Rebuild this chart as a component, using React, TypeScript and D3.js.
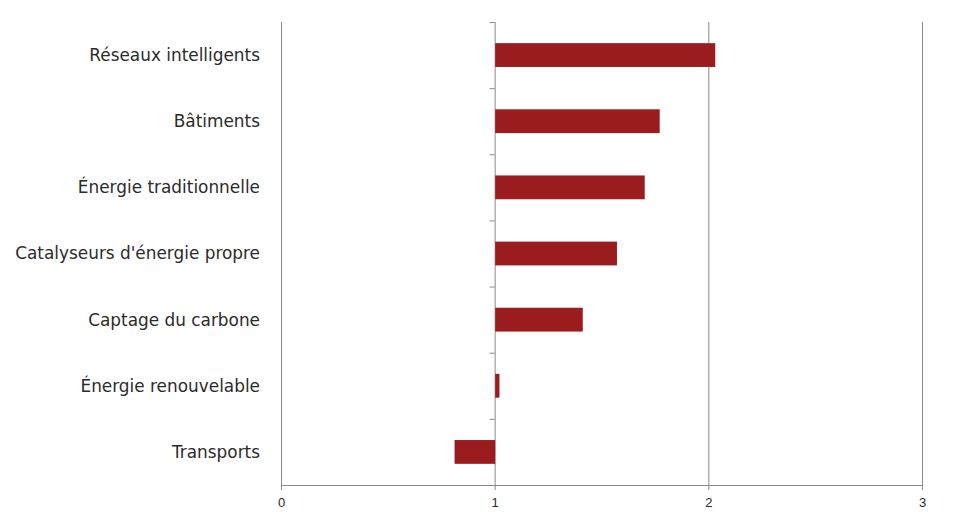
import React, { useEffect, useRef } from "react";
import * as d3 from "d3";

const categories = [
  "Réseaux intelligents",
  "Bâtiments",
  "Énergie traditionnelle",
  "Catalyseurs d'énergie propre",
  "Captage du carbone",
  "Énergie renouvelable",
  "Transports",
];
const values = [2.03, 1.77, 1.7, 1.57, 1.41, 1.02, 0.81];
const xTicks = [0, 1, 2, 3];
const baseline = 1;

const W = 967;
const H = 512;
const M = { left: 281, right: 45, top: 22, bottom: 27 };

export default function App() {
  const ref = useRef<SVGSVGElement>(null);
  useEffect(() => {
    const svg = d3.select(ref.current);
    svg.selectAll("*").remove();
    const x = d3.scaleLinear().domain([0, 3]).range([M.left, W - M.right]);
    const y = d3
      .scaleBand()
      .domain(categories)
      .range([M.top, H - M.bottom])
      .paddingInner(0.64)
      .paddingOuter(0.32);
    const grid = "#8a8a8a";
    svg
      .append("g")
      .selectAll("line")
      .data(xTicks)
      .join("line")
      .attr("x1", (d) => x(d) + 0.5)
      .attr("x2", (d) => x(d) + 0.5)
      .attr("y1", M.top)
      .attr("y2", H - M.bottom + 5)
      .attr("stroke", grid)
      .attr("stroke-width", 1);
    svg
      .append("line")
      .attr("x1", x(0))
      .attr("x2", x(3) + 1)
      .attr("y1", H - M.bottom + 0.5)
      .attr("y2", H - M.bottom + 0.5)
      .attr("stroke", grid);
    const bounds = d3.range(categories.length + 1).map(
      (i) => M.top + (i * (H - M.bottom - M.top)) / categories.length
    );
    svg
      .append("g")
      .selectAll("line")
      .data(bounds)
      .join("line")
      .attr("x1", x(baseline) - 5)
      .attr("x2", x(baseline))
      .attr("y1", (d) => d + 0.5)
      .attr("y2", (d) => d + 0.5)
      .attr("stroke", grid);
    svg
      .append("g")
      .selectAll("rect")
      .data(values)
      .join("rect")
      .attr("x", (d) => Math.min(x(d), x(baseline)) + 0.5)
      .attr("width", (d) => Math.abs(x(d) - x(baseline)))
      .attr("y", (_, i) => y(categories[i])!)
      .attr("height", y.bandwidth())
      .attr("fill", "#9b1c1f");
    svg
      .append("g")
      .selectAll("text")
      .data(categories)
      .join("text")
      .attr("x", 260)
      .attr("y", (d) => y(d)! + y.bandwidth() / 2)
      .attr("dy", "0.35em")
      .attr("text-anchor", "end")
      .attr("font-family", "DejaVu Sans, sans-serif")
      .attr("font-size", 16.9)
      .attr("fill", "#2b2b2b")
      .text((d) => d);
    svg
      .append("g")
      .selectAll("text")
      .data(xTicks)
      .join("text")
      .attr("x", (d) => x(d) + 0.5)
      .attr("y", H - 5)
      .attr("text-anchor", "middle")
      .attr("font-family", "Liberation Sans Narrow, Liberation Sans, sans-serif")
      .attr("font-size", 13)
      .attr("fill", "#2b2b2b")
      .text((d) => String(d));
  }, []);
  return (
    <svg
      ref={ref}
      width={W}
      height={H}
      style={{ position: "absolute", left: 0, top: 0, background: "#fff" }}
    />
  );
}
